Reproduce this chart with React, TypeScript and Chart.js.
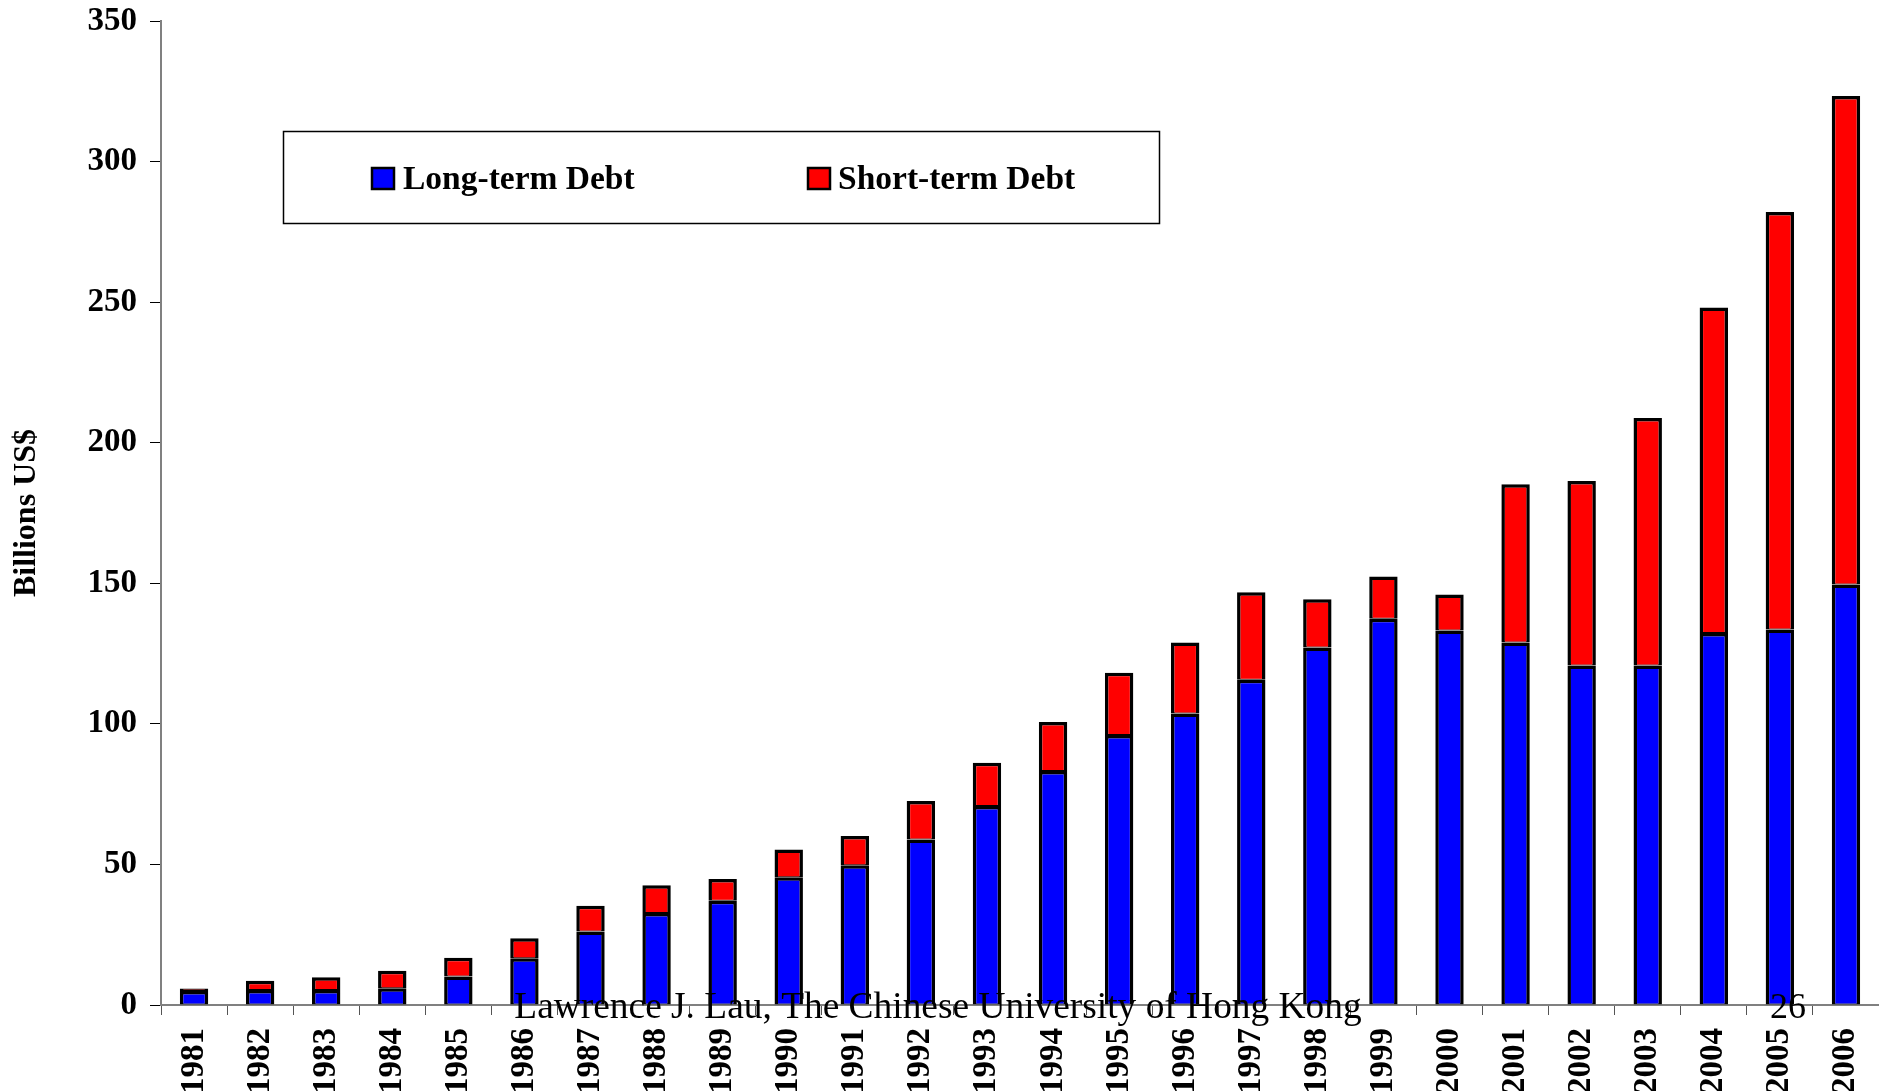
import React, { useEffect, useRef } from 'react';
import { Chart, registerables } from 'chart.js';

Chart.register(...registerables);

const years = [
  '1981', '1982', '1983', '1984', '1985', '1986', '1987', '1988', '1989', '1990',
  '1991', '1992', '1993', '1994', '1995', '1996', '1997', '1998', '1999', '2000',
  '2001', '2002', '2003', '2004', '2005', '2006',
];
const longTermDebt = [
  5.0, 5.3, 5.3, 6.0, 10.1, 16.6, 26.1, 32.7, 37.1, 45.4,
  49.7, 58.9, 70.8, 83.2, 96.0, 103.7, 115.7, 127.2, 137.4, 133.2,
  128.9, 120.8, 120.8, 132.3, 133.6, 149.6,
];
const shortTermDebt = [
  0.9, 3.3, 4.6, 6.2, 6.7, 7.1, 9.2, 9.9, 7.7, 9.9,
  10.4, 13.7, 15.4, 17.5, 22.2, 25.2, 31.1, 17.1, 15.0, 12.8,
  56.3, 65.6, 88.0, 115.8, 148.5, 173.7,
];
const seriesLabels = ['Long-term Debt', 'Short-term Debt'];
const seriesColors = ['#0000FF', '#FF0000'];
const yAxisMin = 0;
const yAxisMax = 350;
const yAxisStep = 50;
const yAxisTitle = 'Billions US$';
const footerText = 'Lawrence J. Lau, The Chinese University of Hong Kong';
const pageNumber = '26';

const SERIF = '"Liberation Serif", "Times New Roman", serif';
const BAR_BORDER = { top: 3.5, bottom: 1, left: 3.5, right: 3.5 };

const boxLegendPlugin = {
  id: 'boxLegend',
  afterDraw(chart: any) {
    const ctx = chart.ctx;
    ctx.save();
    // legend frame
    ctx.strokeStyle = '#000';
    ctx.lineWidth = 1.5;
    ctx.strokeRect(283.5, 131.5, 876, 92);
    const items = [
      { sx: 372, tx: 403 },
      { sx: 808, tx: 838 },
    ];
    chart.data.datasets.forEach((ds: any, i: number) => {
      const it = items[i];
      ctx.fillStyle = ds.backgroundColor;
      ctx.fillRect(it.sx, 168, 22, 21);
      ctx.strokeStyle = '#000';
      ctx.lineWidth = 2.5;
      ctx.strokeRect(it.sx, 168, 22, 21);
      ctx.fillStyle = '#000';
      ctx.font = `bold 33.5px ${SERIF}`;
      ctx.textAlign = 'left';
      ctx.textBaseline = 'alphabetic';
      ctx.fillText(ds.label, it.tx, 189);
    });
    // footer overlay text
    ctx.font = `37.4px ${SERIF}`;
    ctx.fillStyle = '#000';
    ctx.textAlign = 'center';
    ctx.textBaseline = 'alphabetic';
    ctx.fillText(footerText, 938, 1018);
    ctx.font = `36px ${SERIF}`;
    ctx.fillText(pageNumber, 1788, 1018);
    ctx.restore();
  },
};

export default function App() {
  const canvasRef = useRef<HTMLCanvasElement | null>(null);

  useEffect(() => {
    const canvas = canvasRef.current;
    if (!canvas) return;
    const chart = new Chart(canvas, {
      type: 'bar',
      data: {
        labels: years,
        datasets: [
          {
            label: seriesLabels[0],
            data: longTermDebt,
            backgroundColor: seriesColors[0],
            borderColor: '#000',
            borderWidth: BAR_BORDER,
            borderSkipped: false,
            inflateAmount: 0,
            barPercentage: 0.43,
            categoryPercentage: 1,
          },
          {
            label: seriesLabels[1],
            data: shortTermDebt,
            backgroundColor: seriesColors[1],
            borderColor: '#000',
            borderWidth: BAR_BORDER,
            borderSkipped: false,
            inflateAmount: 0,
            barPercentage: 0.43,
            categoryPercentage: 1,
          },
        ],
      },
      options: {
        responsive: false,
        animation: false,
        layout: { padding: { top: 21, left: 0, right: 0, bottom: 0 } },
        plugins: {
          legend: { display: false },
          tooltip: { enabled: false },
        },
        scales: {
          x: {
            stacked: true,
            afterFit: (s: any) => {
              s.height = 86;
              s.paddingLeft = 0;
              s.paddingRight = 0;
            },
            grid: {
              drawOnChartArea: false,
              drawTicks: true,
              tickLength: 10,
              tickColor: '#555',
              offset: true,
            },
            border: { color: '#808080', width: 2 },
            ticks: {
              autoSkip: false,
              minRotation: 90,
              maxRotation: 90,
              padding: 13,
              color: '#000',
              font: { family: SERIF, size: 33, weight: 'bold' },
            },
          },
          y: {
            stacked: true,
            min: yAxisMin,
            max: yAxisMax,
            afterFit: (s: any) => {
              s.width = 161;
              s.paddingTop = 0;
              s.paddingBottom = 0;
            },
            grid: {
              drawOnChartArea: false,
              drawTicks: true,
              tickLength: 11,
              tickColor: '#000',
            },
            border: { color: '#808080', width: 2 },
            ticks: {
              stepSize: yAxisStep,
              padding: 13,
              color: '#000',
              font: { family: SERIF, size: 33, weight: 'bold' },
            },
            title: {
              display: true,
              text: yAxisTitle,
              color: '#000',
              padding: { top: 8, bottom: 0 },
              font: { family: SERIF, size: 32, weight: 'bold' },
            },
          },
        },
      },
      plugins: [boxLegendPlugin],
    } as any);
    return () => chart.destroy();
  }, []);

  return (
    <div style={{ position: 'fixed', left: 0, top: 0, width: 1879, height: 1091, background: '#fff' }}>
      <canvas ref={canvasRef} width={1879} height={1091} style={{ display: 'block' }} />
    </div>
  );
}
